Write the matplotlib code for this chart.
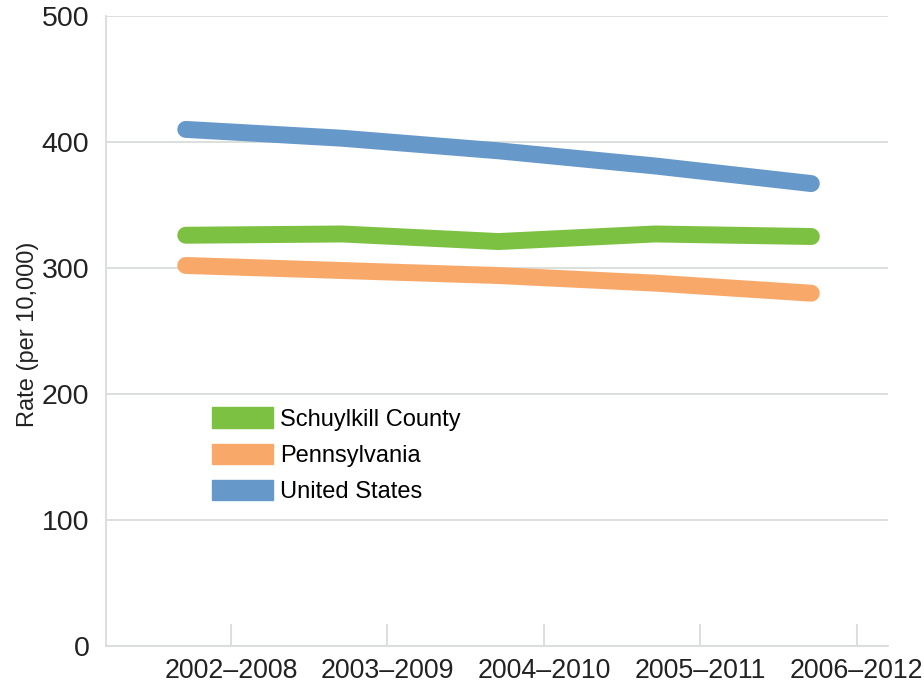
import matplotlib.pyplot as plt
from matplotlib.patches import Patch

periods = ["2002–2008", "2003–2009", "2004–2010", "2005–2011", "2006–2012"]
schuylkill = [326, 327, 321, 327, 325]
pennsylvania = [302, 298, 294, 288, 280]
united_states = [410, 403, 393, 381, 367]

c_green = "#7dc142"
c_orange = "#f8a96a"
c_blue = "#6699c9"
c_grid = "#d9ddd9"

plt.rcParams['font.family'] = ['Liberation Sans Narrow', 'Liberation Sans', 'DejaVu Sans']
plt.rcParams['font.stretch'] = 'condensed'

fig = plt.figure(figsize=(9.24, 6.9), dpi=100)
ax = fig.add_axes([0.1147, 0.0638, 0.8463, 0.913])

x = list(range(len(periods)))
for vals, col in [(united_states, c_blue), (schuylkill, c_green), (pennsylvania, c_orange)]:
    ax.plot(x, vals, color=col, lw=12.2, solid_capstyle='round', solid_joinstyle='miter')

ax.set_ylim(0, 500)
ax.set_xlim(-0.51, 4.49)
ax.set_yticks([0, 100, 200, 300, 400, 500])
ax.yaxis.grid(True, color=c_grid, lw=1.3)
ax.set_axisbelow(True)

# tick marks sit to the right of the points, as in the original
ax.set_xticks([i + 0.29 for i in x])
ax.set_xticklabels(periods)

ax.tick_params(axis='x', direction='in', length=16, width=1.3, color=c_grid,
               pad=9, labelsize=19.3, labelcolor='#222222')
ax.tick_params(axis='y', length=0, pad=12, labelsize=20.5, labelcolor='#222222')

for s in ['top', 'right']:
    ax.spines[s].set_visible(False)
for s in ['left', 'bottom']:
    ax.spines[s].set_color(c_grid)
    ax.spines[s].set_linewidth(1.3)

ax.set_ylabel("Rate (per 10,000)", fontsize=17, color='#222222')
ax.yaxis.set_label_coords(-0.086, 0.495)

handles = [Patch(color=c_green), Patch(color=c_orange), Patch(color=c_blue)]
ax.legend(handles, ["Schuylkill County", "Pennsylvania", "United States"],
          loc='upper left', bbox_to_anchor=(0.135, 0.379), frameon=False,
          fontsize=17, handlelength=2.6, handleheight=0.95, handletextpad=0.3,
          labelspacing=0.55, borderpad=0, borderaxespad=0)

fig.savefig("out.png", dpi=100)
